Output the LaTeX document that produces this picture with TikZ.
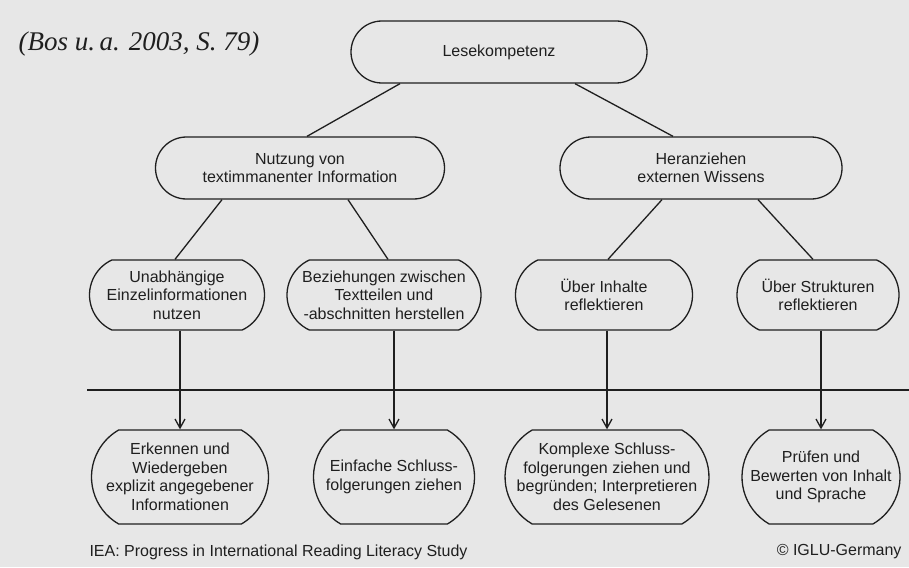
\documentclass[tikz,border=0pt]{standalone}
\usepackage{fontspec}
\setmainfont{Liberation Sans}
\newfontfamily\bosfont{Liberation Serif}
\usetikzlibrary{arrows.meta,calc,shapes.misc}
\definecolor{Ink}{HTML}{1F1F1F}
\definecolor{Paper}{HTML}{E7E7E7}
\tikzset{
  pill/.style={draw=Ink,line width=1.3pt,rounded rectangle,align=center,text=Ink,inner xsep=0pt,inner ysep=0pt,font=\fontsize{16}{18.5}\selectfont},
  pilltop/.style={pill,minimum height=62pt},
  pillmid/.style={pill,minimum height=70pt,rounded rectangle arc length=130},
  pilllow/.style={pill,minimum height=94pt,rounded rectangle arc length=120},
  branch/.style={draw=Ink,line width=1.3pt},
  arrow/.style={-{Straight Barb[length=9pt,width=10pt]},line width=1.3pt,draw=Ink}
}
\begin{document}
\begin{tikzpicture}[x=1pt,y=-1pt]
\fill[Paper] (0,0) rectangle (909,567);
\useasboundingbox (0,0) rectangle (909,567);
\node[anchor=west,font=\bosfont\itshape\fontsize{27}{30}\selectfont,text=Ink] (bos) at (15,44) {(Bos u.\,a. 2003, S. 79)};
\node[pilltop,minimum width=296pt] (lese) at (499,52) {Lesekompetenz};
\node[pilltop,minimum width=289pt] (nutz) at (300,168) {Nutzung von\\textimmanenter Information};
\node[pilltop,minimum width=282pt] (hera) at (701,168) {Heranziehen\\externen Wissens};
\node[pillmid,minimum width=175pt] (einz) at (177,295) {Unabhängige\\Einzelinformationen\\nutzen};
\node[pillmid,minimum width=194pt] (bezi) at (384,295) {Beziehungen zwischen\\Textteilen und\\-abschnitten herstellen};
\node[pillmid,minimum width=177pt] (inha) at (604,295) {Über Inhalte\\reflektieren};
\node[pillmid,minimum width=162pt] (stru) at (818,295) {Über Strukturen\\reflektieren};
\node[pilllow,minimum width=177pt] (erke) at (180,477) {Erkennen und\\Wiedergeben\\explizit angegebener\\Informationen};
\node[pilllow,minimum width=161pt] (schl) at (394,477) {Einfache Schluss-\\folgerungen ziehen};
\node[pilllow,minimum width=203pt] (komp) at (607,477) {Komplexe Schluss-\\folgerungen ziehen und\\begründen; Interpretieren\\des Gelesenen};
\node[pilllow,minimum width=158pt] (prue) at (821,477) {Prüfen und\\Bewerten von Inhalt\\und Sprache};
\draw[branch] ($(lese.south)+(-99,0)$) -- ($(nutz.north)+(7,0)$);
\draw[branch] ($(lese.south)+(76,0)$) -- ($(hera.north)+(-28,0)$);
\draw[branch] ($(nutz.south)+(-78,0)$) -- ($(einz.north)+(-2,0)$);
\draw[branch] ($(nutz.south)+(48,0)$) -- ($(bezi.north)+(4,0)$);
\draw[branch] ($(hera.south)+(-39,0)$) -- ($(inha.north)+(4,0)$);
\draw[branch] ($(hera.south)+(57,0)$) -- ($(stru.north)+(-5,0)$);
\draw[Ink,line width=1.8pt] (87,390) -- (909,390);
\foreach \a/\b in {einz/erke,bezi/schl,inha/komp,stru/prue}
  \draw[arrow] (\a.south -| \b.north) -- (\b.north);
\node[anchor=west,font=\fontsize{16}{18}\selectfont,text=Ink] (iea) at (86,552) {IEA: Progress in International Reading Literacy Study};
\node[anchor=east,font=\fontsize{16}{18}\selectfont,text=Ink] (iglu) at (905,552) {© IGLU-Germany};
\end{tikzpicture}
\end{document}
